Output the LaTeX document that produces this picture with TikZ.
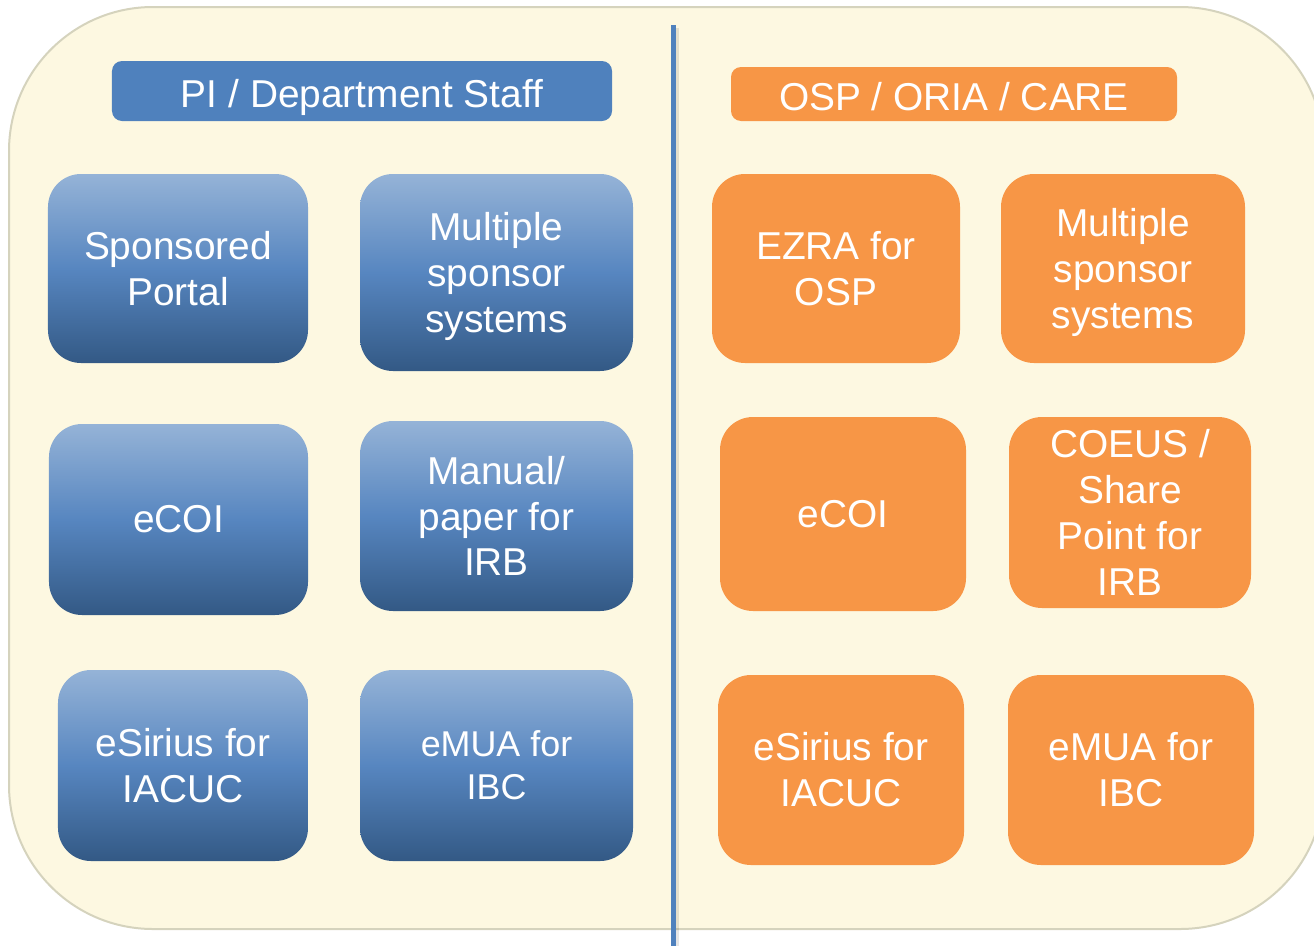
\documentclass[tikz,border=0pt]{standalone}
\usepackage{fontspec}
\setmainfont{Liberation Sans}
\definecolor{bgfill}{HTML}{FDF8E1}
\definecolor{bgline}{HTML}{D5D3BD}
\definecolor{hdrblue}{HTML}{4F81BD}
\definecolor{bluetop}{HTML}{95B3D7}
\definecolor{bluemid}{HTML}{5786C0}
\definecolor{bluebot}{HTML}{335985}
\definecolor{orangeF}{HTML}{F79646}
\begin{document}
\begin{tikzpicture}[x=1bp,y=-1bp,
  bgframe/.style={fill=bgfill, draw=bgline, line width=2bp, rounded corners=144bp},
  divider/.style={draw=hdrblue, line width=5bp},
  divshadow/.style={draw=black, opacity=0.10, line width=4bp},
  tile/.style={rounded corners=33bp, inner sep=0pt, align=center, text=white,
    font=\fontsize{39}{46}\selectfont},
  bluebox/.style={tile, top color=bluetop, bottom color=bluebot, middle color=bluemid},
  orangebox/.style={tile, fill=orangeF},
  header/.style={rounded corners=10bp, inner sep=0pt, text=white,
    text height=34bp, text depth=2bp,
    font=\fontsize{39}{46}\selectfont},
  blueheader/.style={header, fill=hdrblue},
  orangeheader/.style={header, fill=orangeF}
]
\useasboundingbox (0,0) rectangle (1314,946);
\clip (0,0) rectangle (1314,946);
\path[bgframe] (9,7) rectangle (1324,929);
\coordinate (divtop) at (673,25);
\coordinate (divbot) at (673,946);
\coordinate (shtop) at (677,28);
\coordinate (shbot) at (677,946);
\draw[divshadow] (shtop) -- (shbot);
\draw[divider] (divtop) -- (divbot);

% left column
\node[blueheader, minimum width=500bp, minimum height=60bp] (pi) at (362,91) {PI / Department Staff};
\node[bluebox, minimum width=260bp, minimum height=189bp] (sp) at (178,268.5) {Sponsored\\Portal};
\node[bluebox, minimum width=273bp, minimum height=197bp] (msl) at (496.5,272.5) {Multiple\\sponsor\\\smash{systems}};
\node[bluebox, minimum width=259bp, minimum height=191bp] (ecoil) at (178.5,519.5) {eCOI};
\node[bluebox, minimum width=273bp, minimum height=190bp] (man) at (496.5,516) {Manual/\\paper for\\IRB};
\node[bluebox, minimum width=250bp, minimum height=191bp] (esl) at (183,765.5) {eSirius for\\IACUC};
\node[bluebox, minimum width=273bp, minimum height=191bp, font=\fontsize{36}{43}\selectfont] (emual) at (496.5,765.5) {eMUA for\\IBC};

% right column
\node[orangeheader, minimum width=446bp, minimum height=54bp] (osp) at (954,94) {OSP / ORIA / CARE};
\node[orangebox, minimum width=248bp, minimum height=189bp] (ezra) at (836,268.5) {EZRA for\\OSP};
\node[orangebox, minimum width=244bp, minimum height=189bp] (msr) at (1123,268.5) {Multiple\\sponsor\\\smash{systems}};
\node[orangebox, minimum width=246bp, minimum height=194bp] (ecoir) at (843,514) {eCOI};
\node[orangebox, minimum width=242bp, minimum height=191bp] (coeus) at (1130,512.5) {COEUS /\\Share\\Point for\\IRB};
\node[orangebox, minimum width=246bp, minimum height=190bp] (esr) at (841,770) {eSirius for\\IACUC};
\node[orangebox, minimum width=246bp, minimum height=190bp] (emuar) at (1131,770) {eMUA for\\IBC};
\end{tikzpicture}
\end{document}
